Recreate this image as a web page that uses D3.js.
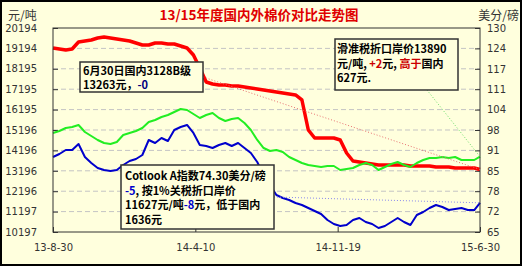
<!DOCTYPE html>
<html><head><meta charset="utf-8">
<script src="https://cdn.jsdelivr.net/npm/d3@7"></script>
<style>
html,body{margin:0;padding:0;background:#ffffdd;}
svg{display:block;}
</style></head>
<body>
<svg id="c" width="522" height="266"></svg>
<script>
// ---------- DATA ----------
const dates = ["2013-08-30","2013-09-09","2013-09-19","2013-09-29","2013-10-09","2013-10-19","2013-10-29","2013-11-08","2013-11-18","2013-11-28","2013-12-08","2013-12-18","2013-12-28","2014-01-07","2014-01-17","2014-01-27","2014-02-06","2014-02-16","2014-02-26","2014-03-08","2014-03-18","2014-03-28","2014-04-07","2014-04-17","2014-04-27","2014-05-07","2014-05-17","2014-05-27","2014-06-06","2014-06-16","2014-06-26","2014-07-06","2014-07-16","2014-07-26","2014-08-05","2014-08-15","2014-08-25","2014-09-04","2014-09-14","2014-09-24","2014-10-04","2014-10-14","2014-10-24","2014-11-03","2014-11-13","2014-11-23","2014-12-03","2014-12-13","2014-12-23","2015-01-02","2015-01-12","2015-01-22","2015-02-01","2015-02-11","2015-02-21","2015-03-03","2015-03-13","2015-03-23","2015-04-02","2015-04-12","2015-04-22","2015-05-02","2015-05-12","2015-05-22","2015-06-01","2015-06-11","2015-06-21","2015-06-30"];
// 国内3128B (元/吨)
const domestic = [19214,19165,19116,19165,19508,19557,19606,19704,19753,19704,19655,19606,19557,19459,19361,19361,19459,19459,19410,19410,19312,19214,18871,18234,17548,17450,17401,17401,17352,17352,17303,17254,17205,17156,17107,17058,17009,16960,16911,16666,15196,14803,14803,14803,14803,14705,14068,13676,13627,13577,13528,13480,13480,13480,13480,13480,13431,13431,13431,13431,13382,13382,13382,13333,13333,13333,13333,13263];
// 滑准税折口岸价 (元/吨)
const slidingTariff = [15049,15147,15294,15343,15441,15098,14901,14706,14558,14509,14607,14951,15049,15147,15294,15588,15686,15833,15930,16078,16225,16176,15980,15784,15930,16029,15784,15637,15735,15784,15539,15196,14706,14313,14166,14215,14117,13872,13725,13578,13480,13431,13382,13431,13431,13235,13284,13333,13480,13578,13480,13235,13382,13529,13627,13480,13382,13578,13725,13823,13823,13872,13823,13872,13725,13725,13725,13890];
// 1%关税折口岸价 (元/吨) — same curve as Cotlook A on the right axis
const onePctTariff = [13872,14019,14215,14215,14509,13872,13578,13333,13235,13186,13235,13480,13676,13774,13970,14706,14558,14803,14657,15196,15343,15441,15049,14460,14411,14313,14460,14558,14411,14558,14313,14068,13627,12990,12500,12010,11863,11765,11618,11520,11373,11226,11079,10785,10589,10491,10540,10785,10883,10687,10589,10393,10491,10687,10883,10687,10540,11030,11177,11373,11520,11422,11275,11324,11373,11275,11275,11627];

const leftTicks = [20194,19194,18195,17195,16195,15196,14196,13196,12196,11197,10197];
const rightTicks = [130,123.5,117,110.5,104,97.5,91,84.5,78,71.5,65];
const xTicks = ["2013-08-30","2014-04-10","2014-11-19","2015-06-30"];
const xTickLabels = ["13-8-30","14-4-10","14-11-19","15-6-30"];

const title = "13/15年度国内外棉价对比走势图";
const leftUnit = "元/吨", rightUnit = "美分/磅";

// ---------- LAYOUT ----------
const W = 522, H = 266;
const m = {l:53, r:480, t:28, b:232};
const parse = d3.timeParse("%Y-%m-%d");
const svg = d3.select("#c");
const FONT = "'DejaVu Sans', sans-serif";
const CJK = "'Noto Sans CJK SC', 'Noto Sans', sans-serif";

svg.append("rect").attr("x",1).attr("y",1).attr("width",W-2).attr("height",H-2)
  .attr("fill","#ffffdd").attr("stroke","#000").attr("stroke-width",2);

const x = d3.scaleTime().domain([parse(dates[0]), parse(dates[dates.length-1])]).range([m.l, m.r]);
const yL = d3.scaleLinear().domain([10197, 20194]).range([m.b, m.t]);
const yR = d3.scaleLinear().domain([65, 130]).range([m.b, m.t]);

// grid
svg.append("g").selectAll("line").data(leftTicks.slice(1,-1)).join("line")
  .attr("x1",m.l).attr("x2",m.r).attr("y1",d=>yL(d)).attr("y2",d=>yL(d))
  .attr("stroke","#c4c4c4").attr("stroke-width",1).attr("stroke-dasharray","5,3");

// axes
const axL = d3.axisLeft(yL).tickValues(leftTicks).tickSize(-5).tickPadding(16).tickFormat(d3.format("d"));
const gL = svg.append("g").attr("transform",`translate(${m.l},0)`).call(axL);
const axR = d3.axisRight(yR).tickValues(rightTicks).tickSize(-5).tickPadding(7).tickFormat(d=>Math.round(d));
const gR = svg.append("g").attr("transform",`translate(${m.r},0)`).call(axR);
const axB = d3.axisBottom(x).tickValues(xTicks.map(parse)).tickSize(-5).tickPadding(12)
  .tickFormat((d,i)=>xTickLabels[i]);
const gB = svg.append("g").attr("transform",`translate(0,${m.b})`).call(axB);
[gL,gR,gB].forEach(g=>{
  g.select(".domain").remove();
  g.selectAll("line").attr("stroke","#333");
  g.selectAll("text").attr("fill","#333").style("font-family",FONT).style("font-size","10px");
});

// series
const pts = vals => vals.map((v,i)=>[parse(dates[i]), v]);
const line = d3.line().x(d=>x(d[0])).y(d=>yL(d[1]));
svg.append("path").attr("d",line(pts(domestic))).attr("fill","none").attr("stroke","#ff0000").attr("stroke-width",3.5).attr("stroke-linejoin","round");
svg.append("path").attr("d",line(pts(slidingTariff))).attr("fill","none").attr("stroke","#22ee22").attr("stroke-width",2).attr("stroke-linejoin","round");
svg.append("path").attr("d",line(pts(onePctTariff))).attr("fill","none").attr("stroke","#0000cc").attr("stroke-width",2).attr("stroke-linejoin","round");

// frame
svg.append("rect").attr("x",m.l).attr("y",m.t).attr("width",m.r-m.l).attr("height",m.b-m.t)
  .attr("fill","none").attr("stroke","#333").attr("stroke-width",1);

// leader lines
const last = dates.length-1;
const endX = x(parse(dates[last]));
function leader(x1,y1,y2,color){
  svg.append("line").attr("x1",x1).attr("y1",y1).attr("x2",endX).attr("y2",y2)
    .attr("stroke",color).attr("stroke-width",1).attr("stroke-dasharray","1,2");
}
leader(203,77,yL(domestic[last]),"#e87070");
leader(427,90,yL(slidingTariff[last]),"#66dd66");
leader(274,197,yL(onePctTariff[last]),"#8888ee");

// annotation boxes
function box(bx,by,bw,bh,lines,tx,base,lh){
  svg.append("rect").attr("x",bx).attr("y",by).attr("width",bw).attr("height",bh)
    .attr("fill","#ffffdd").attr("stroke","#333").attr("stroke-width",1.5);
  lines.forEach((segs,i)=>{
    const t = svg.append("text").attr("x",tx).attr("y",base+i*lh)
      .style("font-family",CJK).style("font-size","11px").style("font-weight","bold");
    segs.forEach(s=>t.append("tspan").text(s[0]).attr("fill",s[1]||"#000"));
  });
}
box(80,62,123,30,[[["6月30日国内3128B级"]],[["13263元，"],["-0","#000080"]]],83,74.5,14.5);
box(335,39,123,51,[[["滑准税折口岸价13890"]],[["元/吨, "],["+2","#cc0000"],["元, "],["高于","#cc0000"],["国内"]],[["627元."]]],337,53,14.5);
box(121,165,153,64,[[["Cotlook A指数74.30美分/磅"]],[["-5","#0000cc"],[", 按1%关税折口岸价"]],[["11627元/吨"],["-8","#0000cc"],["元，低于国内"]],[["1636元"]]],125,180,14.6);

// titles
svg.append("text").attr("x",259).attr("y",20).attr("text-anchor","middle").text(title)
  .style("font-family",CJK).style("font-size","13.5px").style("font-weight","bold").attr("fill","#e00000");
svg.append("text").attr("x",8).attr("y",20).text(leftUnit)
  .style("font-family",CJK).style("font-size","12px").attr("fill","#333");
svg.append("text").attr("x",519).attr("y",20).attr("text-anchor","end").text(rightUnit)
  .style("font-family",CJK).style("font-size","12px").attr("fill","#333");
</script>
</body></html>
